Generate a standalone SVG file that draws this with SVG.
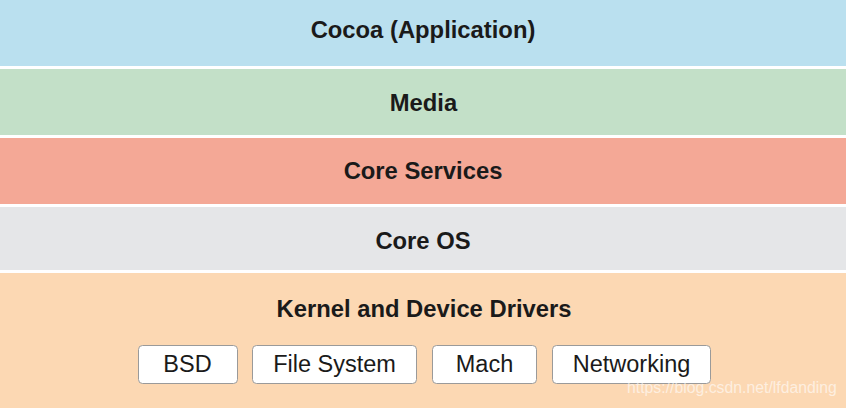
<svg xmlns="http://www.w3.org/2000/svg" width="846" height="408" viewBox="0 0 846 408">
<style>
.t{font-family:"Liberation Sans",Arial,Helvetica,sans-serif;font-weight:bold;font-size:23.8px;fill:#1a1a1a;text-anchor:middle}
.b{font-family:"Liberation Sans",Arial,Helvetica,sans-serif;font-size:23.5px;fill:#1a1a1a;text-anchor:middle}
.box{fill:#ffffff;stroke:#9a9a9a;stroke-width:1}
.wm{font-family:"Liberation Sans",Arial,Helvetica,sans-serif;font-size:15.8px;fill:#ffffff;fill-opacity:0.6}
</style>
<rect width="846" height="408" fill="#ffffff"/>
<g id="cocoa">
<rect x="0" y="0" width="846" height="66" fill="#bae0ef"/>
<text class="t" x="423" y="37.5">Cocoa (Application)</text>
</g>
<g id="media">
<rect x="0" y="69" width="846" height="66" fill="#c3e0c8"/>
<text class="t" x="423.5" y="110.7">Media</text>
</g>
<g id="core-services">
<rect x="0" y="138" width="846" height="66" fill="#f4a896"/>
<text class="t" x="423" y="179.3">Core Services</text>
</g>
<g id="core-os">
<rect x="0" y="207" width="846" height="63" fill="#e5e6e8"/>
<text class="t" x="423" y="249">Core OS</text>
</g>
<g id="kernel">
<rect x="0" y="273" width="846" height="135" fill="#fcd8b3"/>
<text class="t" x="424" y="317.3">Kernel and Device Drivers</text>
</g>
<g id="bsd">
<rect class="box" x="138.5" y="345.5" width="99" height="38" rx="4"/>
<text class="b" x="187.5" y="372.3">BSD</text>
</g>
<g id="file-system">
<rect class="box" x="252.5" y="345.5" width="164" height="38" rx="4"/>
<text class="b" x="334.5" y="372.3">File System</text>
</g>
<g id="mach">
<rect class="box" x="432.5" y="345.5" width="104" height="38" rx="4"/>
<text class="b" x="484.5" y="372.3">Mach</text>
</g>
<g id="networking">
<rect class="box" x="552.5" y="345.5" width="158" height="38" rx="4"/>
<text class="b" x="631.5" y="372.3">Networking</text>
</g>
<g id="connectors"></g>
<text class="wm" x="627" y="393">https://blog.csdn.net/lfdanding</text>
</svg>
